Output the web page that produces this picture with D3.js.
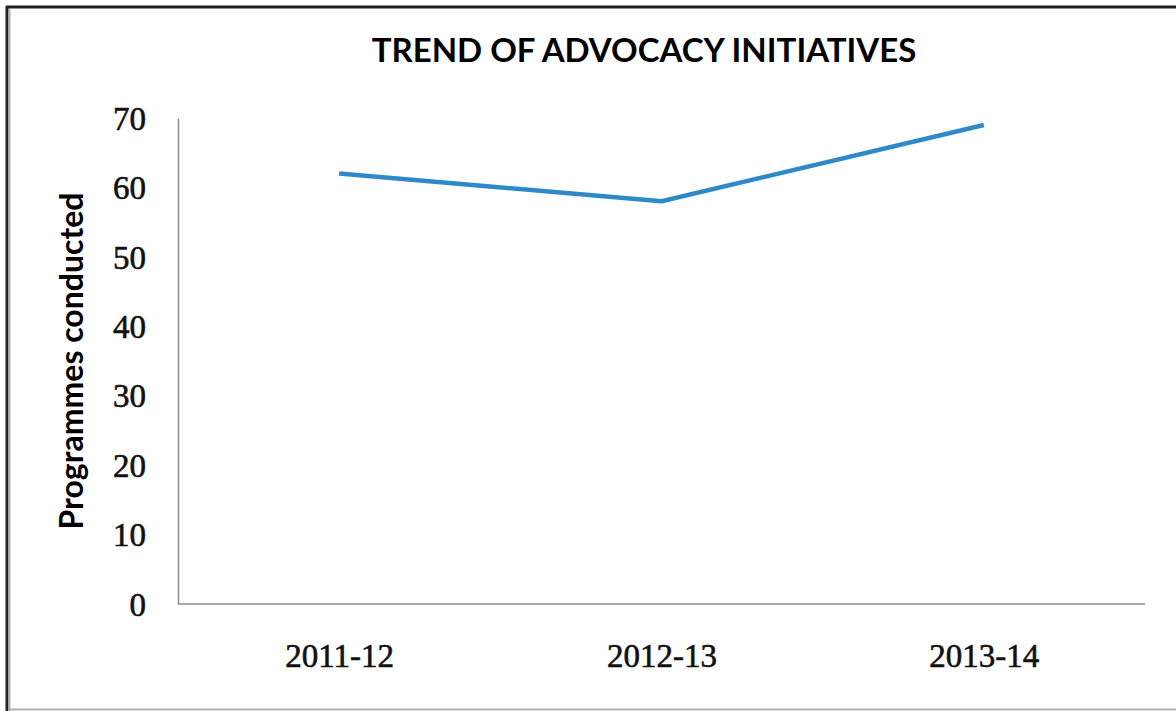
<!DOCTYPE html>
<html><head><meta charset="utf-8">
<script src="https://cdn.jsdelivr.net/npm/d3@7"></script>
<style>html,body{margin:0;padding:0;background:#fff;}</style>
</head><body>
<svg id="c" width="1176" height="711"></svg>
<script>
const categories = ["2011-12", "2012-13", "2013-14"];
const programmes = [62, 58, 69];
const yTicks = [0, 10, 20, 30, 40, 50, 60, 70];
const chartTitle = "TREND OF ADVOCACY INITIATIVES";
const yTitle = "Programmes conducted";

const svg = d3.select("#c");
// frame
svg.append("rect").attr("x",0).attr("y",0).attr("width",1176).attr("height",711).attr("fill","#fff");
svg.append("line").attr("x1",6).attr("x2",1176).attr("y1",7).attr("y2",7).attr("stroke","#222").attr("stroke-width",3);
svg.append("line").attr("x1",7).attr("x2",7).attr("y1",6).attr("y2",711).attr("stroke","#222").attr("stroke-width",3);
svg.append("line").attr("x1",9.5).attr("x2",9.5).attr("y1",9).attr("y2",711).attr("stroke","#b0b0b0").attr("stroke-width",2);
svg.append("line").attr("x1",9).attr("x2",1176).attr("y1",709.5).attr("y2",709.5).attr("stroke","#b0b0b0").attr("stroke-width",2);

const L = 178, R = 1145, T = 118, B = 604;
const x = d3.scalePoint().domain(categories).range([L, R]).padding(0.5);
const y = d3.scaleLinear().domain([0, 70]).range([B, T]);

const serif = "'Liberation Serif', serif";
// y axis
const ya = svg.append("g").attr("transform", `translate(${L},0)`)
  .call(d3.axisLeft(y).tickValues(yTicks).tickSize(0).tickPadding(32).tickFormat(d3.format("d")));
ya.select(".domain").attr("stroke","#8c8c8c").attr("stroke-width",1.5);
ya.selectAll("text").attr("font-family",serif).attr("font-size",33).attr("fill","#111")
  .attr("stroke","#111").attr("stroke-width",0.6).attr("dy","0.34em");

// x axis
const xa = svg.append("g").attr("transform", `translate(0,${B})`)
  .call(d3.axisBottom(x).tickSize(0).tickPadding(0));
xa.select(".domain").attr("stroke","#8c8c8c").attr("stroke-width",1.5).attr("d", `M${L},0H${R}`);
xa.selectAll("text").attr("font-family",serif).attr("font-size",33).attr("fill","#111")
  .attr("stroke","#111").attr("stroke-width",0.6).attr("dy",null).attr("y",63);

// line
svg.append("path").datum(programmes)
  .attr("fill","none").attr("stroke","#2f89c9").attr("stroke-width",4.5).attr("stroke-linejoin","round")
  .attr("d", d3.line().x((d,i)=>x(categories[i])).y(d=>y(d)));

// title
svg.append("text").attr("x",644).attr("y",62).attr("text-anchor","middle")
  .attr("font-family","Lato, sans-serif").attr("font-weight","bold").attr("font-size",33).attr("fill","#000")
  .text(chartTitle);

// y title
svg.append("text").attr("transform","translate(83,361) rotate(-90)").attr("text-anchor","middle")
  .attr("font-family","Lato, sans-serif").attr("font-weight","bold").attr("font-size",32).attr("fill","#000")
  .text(yTitle);
</script>
</body></html>
